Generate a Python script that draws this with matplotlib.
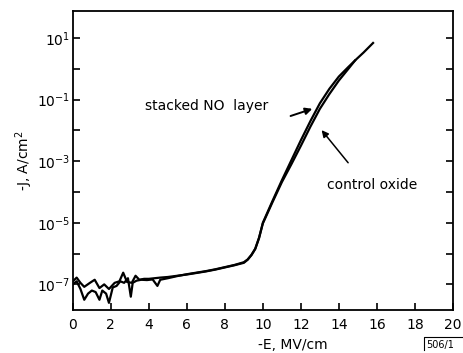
import numpy as np
import matplotlib
matplotlib.use("Agg")
import matplotlib.pyplot as plt
from matplotlib.ticker import FixedLocator, NullFormatter

# field (MV/cm) and log10 of current density (A/cm^2)
stacked_E = [0, 0.2, 0.4, 0.6, 0.9, 1.15, 1.4, 1.65, 1.9, 2.2, 2.45, 2.65, 2.85, 3.1,
             3.3, 3.5, 3.75, 4.0, 4.3, 4.6, 5.0, 5.5, 6.0, 6.5, 7.0, 7.5, 8.0, 8.5,
             9.0, 9.2, 9.4, 9.6, 9.8, 10.0, 10.2, 10.5, 11.0, 11.5, 12.0, 12.5, 13.0,
             13.5, 14.0, 14.5, 14.9, 15.3, 15.8]
stacked_logJ = [-6.9, -6.78, -6.95, -7.08, -6.95, -6.85, -7.12, -7.0, -7.15, -6.95, -6.9,
                -6.62, -6.92, -6.95, -6.72, -6.85, -6.82, -6.82, -6.8, -6.78, -6.76, -6.72,
                -6.68, -6.63, -6.58, -6.52, -6.45, -6.38, -6.3, -6.2, -6.05, -5.85, -5.5,
                -5.0, -4.72, -4.3, -3.62, -2.97, -2.32, -1.7, -1.12, -0.65, -0.25, 0.06,
                0.3, 0.53, 0.84]

control_E = [0, 0.2, 0.4, 0.6, 0.8, 1.0, 1.2, 1.4, 1.55, 1.75, 1.9, 2.1, 2.3, 2.5, 2.7,
             2.9, 3.05, 3.15, 3.35, 3.6, 3.9, 4.2, 4.45, 4.6, 5.0, 5.5, 6.0, 6.5, 7.0,
             7.5, 8.0, 8.5, 9.0, 9.2, 9.4, 9.6, 9.8, 10.0, 10.2, 10.5, 11.0, 11.5, 12.0,
             12.5, 13.0, 13.5, 14.0, 14.5, 14.85]
control_logJ = [-7.0, -6.9, -7.15, -7.5, -7.3, -7.2, -7.25, -7.5, -7.2, -7.3, -7.6, -7.1,
                -7.05, -6.9, -6.95, -6.8, -7.4, -6.95, -6.88, -6.85, -6.86, -6.84, -7.05,
                -6.85, -6.8, -6.73, -6.67, -6.62, -6.57, -6.51, -6.44, -6.37, -6.28, -6.19,
                -6.04, -5.84, -5.48, -5.02, -4.75, -4.34, -3.68, -3.1, -2.5, -1.88, -1.3,
                -0.82, -0.38, 0.0, 0.27]

x_ticks = [0, 2, 4, 6, 8, 10, 12, 14, 16, 18, 20]
y_major_exp = [-7, -5, -3, -1, 1]
y_minor_exp = [-6, -4, -2, 0]

fig = plt.figure(figsize=(4.64, 3.53), dpi=100)
ax = fig.add_axes([0.157, 0.122, 0.819, 0.847])

ax.plot(stacked_E, 10.0 ** np.array(stacked_logJ), color='black', lw=1.6)
ax.plot(control_E, 10.0 ** np.array(control_logJ), color='black', lw=1.6)

ax.set_yscale('log')
ax.set_xlim(0, 20)
ax.set_ylim(10 ** -7.83, 10 ** 1.88)

ax.set_xticks(x_ticks)
ax.set_xticklabels([str(t) for t in x_ticks], fontsize=10)
ax.yaxis.set_major_locator(FixedLocator([10.0 ** e for e in y_major_exp]))
ax.yaxis.set_minor_locator(FixedLocator([10.0 ** e for e in y_minor_exp]))
ax.set_yticklabels(['$10^{%d}$' % e for e in y_major_exp], fontsize=10)
ax.yaxis.set_minor_formatter(NullFormatter())

ax.tick_params(axis='x', which='major', direction='in', length=5, width=1.2, pad=6)
ax.tick_params(axis='y', which='major', direction='in', length=5, width=1.2, pad=2)
ax.tick_params(axis='y', which='minor', direction='in', length=5, width=1.2)
ax.tick_params(axis='y', which='both', right=True)
for s in ax.spines.values():
    s.set_linewidth(1.3)

ax.set_ylabel('-J, A/cm$^2$', fontsize=10)
ax.yaxis.set_label_coords(-0.1, 0.5)
ax.text(0.58, -0.095, '-E, MV/cm', transform=ax.transAxes, fontsize=10,
        ha='center', va='top')

ax.text(3.8, 10 ** -1.21, 'stacked NO  layer', fontsize=10, va='center')
ax.annotate('', xy=(12.74, 10 ** -1.27), xytext=(11.32, 10 ** -1.56),
            arrowprops=dict(arrowstyle='-|>', color='black', lw=1.4, mutation_scale=10))
ax.text(13.35, 10 ** -3.77, 'control oxide', fontsize=10, va='center')
ax.annotate('', xy=(13.0, 10 ** -1.92), xytext=(14.58, 10 ** -3.12),
            arrowprops=dict(arrowstyle='-|>', color='black', lw=1.1, mutation_scale=10))

fig.text(0.918, 0.008, '506/1', fontsize=7, ha='left', va='bottom')
fig.add_artist(plt.Line2D([0.914, 0.914, 0.995], [0.008, 0.045, 0.045],
                          transform=fig.transFigure, color='black', lw=0.8))

fig.savefig('out.png', dpi=100)
